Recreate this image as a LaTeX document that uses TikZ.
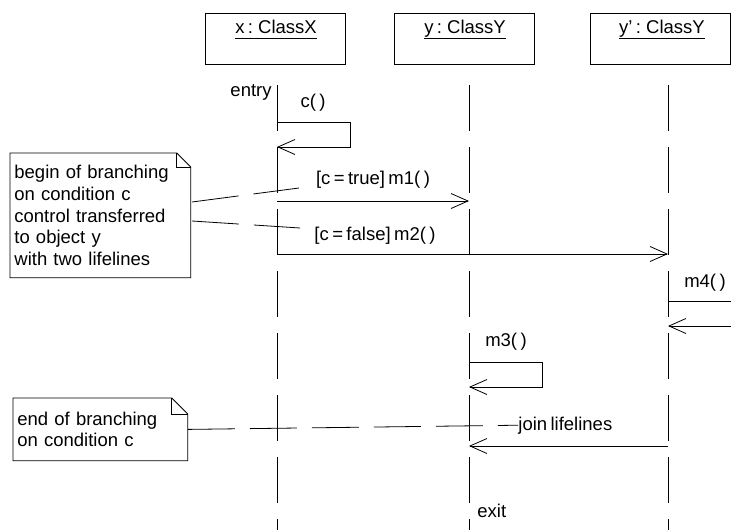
\documentclass[tikz,border=0pt]{standalone}
\usepackage{fontspec}
\setmainfont{Liberation Sans}
\usetikzlibrary{arrows.meta,calc}
\newcommand\diagfont{\fontsize{18.5}{21.7}\selectfont\spaceskip=3.4pt\relax}

\begin{document}
\begin{tikzpicture}[x=1pt,y=-1pt,line width=0.8pt,
		every node/.style={font=\diagfont,inner sep=0pt},
		object/.style={draw,anchor=north west,minimum width=140pt,minimum height=51pt},
		lifeline/.style={dash pattern=on 46pt off 16pt},
		msg/.style={-{Straight Barb[length=17pt,width=15pt]}},
		link/.style={dash pattern=on 47pt off 15pt},
		note/.style={anchor=north west,align=left,inner xsep=4pt}]
		
		\useasboundingbox (0,0) rectangle (731,530);
		
		% objects
		\node[object] (ox) at (205,13) {};
		\node[object] (oy) at (394,13) {};
		\node[object] (oyy) at (590,13) {};
		\node[anchor=base] (tx) at (276,33) {\underline{x : ClassX\vphantom{y}}};
		\node[anchor=base] (ty) at (465,33) {\underline{y : ClassY}};
		\node[anchor=base] (tyy) at (662,33) {\underline{y' : ClassY}};
		
		% lifelines
		\coordinate (lx) at (277,85);	\coordinate (lxe) at (277,530);
		\coordinate (ly) at (469,85);	\coordinate (lye) at (469,530);
		\coordinate (lyy) at (668,85);	\coordinate (lyye) at (668,530);
		\foreach \a/\b in {lx/lxe,ly/lye,lyy/lyye}
			\draw[lifeline] (\a) -- (\b);
		
		\node[anchor=base east] (entry) at (272,96) {entry};
		\node[anchor=base west] (exit) at (477,517) {exit};
		
		% messages
		\coordinate (c1) at (277,122);	\coordinate (c2) at (350,122);
		\coordinate (c3) at (350,147);	\coordinate (c4) at (277,147);
		\draw[msg] (c1) -- (c2) -- (c3) -- (c4);
		\node[anchor=base] (lc) at (313,107) {c( )};
		
		\coordinate (m1a) at (277,201);	\coordinate (m1b) at (469,201);
		\draw[msg] (m1a) -- (m1b);
		\node[anchor=base] (lm1) at (373,184) {[c = true] m1( )};
		
		\coordinate (m2a) at (277,254);	\coordinate (m2b) at (668,254);
		\draw[msg] (m2a) -- (m2b);
		\node[anchor=base] (lm2) at (375,240) {[c = false] m2( )};
		
		\coordinate (m4a) at (668,301);	\coordinate (m4b) at (741,301);
		\coordinate (m4c) at (741,326);	\coordinate (m4d) at (668,326);
		\draw[msg] (m4a) -- (m4b) -- (m4c) -- (m4d);
		\node[anchor=base] (lm4) at (705,287) {m4( )};
		
		\coordinate (m3a) at (469,362);	\coordinate (m3b) at (542,362);
		\coordinate (m3c) at (542,387);	\coordinate (m3d) at (469,387);
		\draw[msg] (m3a) -- (m3b) -- (m3c) -- (m3d);
		\node[anchor=base] (lm3) at (506,346) {m3( )};
		
		\coordinate (ja) at (668,446);	\coordinate (jb) at (469,446);
		\draw[msg] (ja) -- (jb);
		\node[anchor=base west] (ljoin) at (518,430) {join lifelines};
		
		% notes
		\node[note,minimum width=180pt,minimum height=124pt,text width=172pt] (n1) at (10,153)
			{begin of branching\\on condition c\\control transferred\\to object y\\with two lifelines};
		\node[note,minimum width=174pt,minimum height=62pt,text width=166pt] (n2) at (13,398)
			{end of branching\\on condition c};
		\foreach \n/\f in {n1/14,n2/16}{
			\draw (\n.north west) -- ($(\n.north east)+(-\f,0)$) -- ($(\n.north east)+(0,\f)$)
				-- (\n.south east) -- (\n.south west) -- cycle;
			\draw ($(\n.north east)+(-\f,0)$) -- ($(\n.north east)+(-\f,\f)$) -- ($(\n.north east)+(0,\f)$);
		}
		
		\coordinate (k1a) at (192,202);	\coordinate (k1b) at (299,188);
		\coordinate (k2a) at (192,221);	\coordinate (k2b) at (300,228);
		\draw[link] (k1a) -- (k1b);
		\draw[link] (k2a) -- (k2b);
		\draw[link] (n2.east) -- (ljoin.west);
\end{tikzpicture}
\end{document}
